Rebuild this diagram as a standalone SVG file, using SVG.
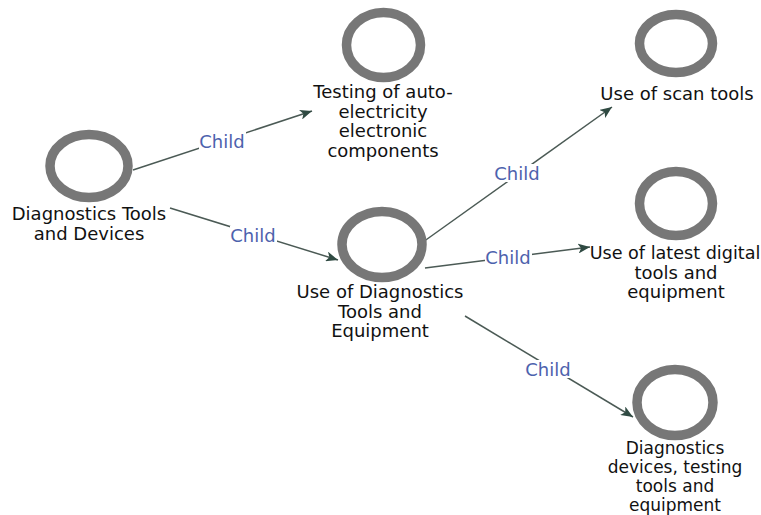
<svg xmlns="http://www.w3.org/2000/svg" width="761" height="515" viewBox="0 0 761 515">
<style>
.ring{fill:none;stroke:#777;stroke-width:9.5}
.lbl{font-family:"DejaVu Sans",sans-serif;font-size:18px;fill:#111;text-anchor:middle}
.sm{font-size:17px}
.edge{stroke:#4b5a55;stroke-width:1.5;fill:none}
.elbl{font-family:"DejaVu Sans",sans-serif;font-size:18px;fill:#4d62ad;text-anchor:middle;dominant-baseline:central}
.bg{fill:#fff}
</style>
<defs>
<marker id="arr" viewBox="0 0 12 10" refX="12" refY="5" markerWidth="12" markerHeight="10" markerUnits="userSpaceOnUse" orient="auto">
<path d="M0,0 L12,5 L0,10 L3,5 z" fill="#2f4a42"/>
</marker>
</defs>
<rect width="761" height="515" fill="#fff"/>
<g id="connectors">
<line class="edge" x1="133" y1="170" x2="312" y2="111" marker-end="url(#arr)"/>
<line class="edge" x1="170" y1="208" x2="338" y2="260" marker-end="url(#arr)"/>
<line class="edge" x1="423" y1="242" x2="612" y2="107" marker-end="url(#arr)"/>
<line class="edge" x1="425" y1="268" x2="590" y2="247" marker-end="url(#arr)"/>
<line class="edge" x1="465" y1="316" x2="633" y2="417" marker-end="url(#arr)"/>
<rect class="bg" x="199" y="132" width="47" height="18"/>
<text class="elbl" x="222" y="141">Child</text>
<rect class="bg" x="230" y="226" width="47" height="18"/>
<text class="elbl" x="253" y="235">Child</text>
<rect class="bg" x="494" y="164" width="47" height="18"/>
<text class="elbl" x="517" y="173">Child</text>
<rect class="bg" x="485" y="248" width="47" height="18"/>
<text class="elbl" x="508" y="257">Child</text>
<rect class="bg" x="525" y="360" width="47" height="18"/>
<text class="elbl" x="548" y="369">Child</text>
</g>
<g id="n1">
<ellipse class="ring" cx="89" cy="166" rx="39" ry="31.5"/>
<text class="lbl" x="89" y="220">Diagnostics Tools</text>
<text class="lbl" x="89" y="240">and Devices</text>
</g>
<g id="n2">
<ellipse class="ring" cx="383.5" cy="45" rx="37" ry="32.5"/>
<text class="lbl" x="383" y="98">Testing of auto-</text>
<text class="lbl" x="383" y="118">electricity</text>
<text class="lbl" x="383" y="137">electronic</text>
<text class="lbl" x="383" y="157">components</text>
</g>
<g id="n3">
<ellipse class="ring" cx="382" cy="244.5" rx="40" ry="33"/>
<text class="lbl" x="380" y="298">Use of Diagnostics</text>
<text class="lbl" x="380" y="318">Tools and</text>
<text class="lbl" x="380" y="337">Equipment</text>
</g>
<g id="n4">
<ellipse class="ring" cx="676" cy="43.5" rx="36.5" ry="29"/>
<text class="lbl" x="677" y="100">Use of scan tools</text>
</g>
<g id="n5">
<ellipse class="ring" cx="676" cy="203.5" rx="36.5" ry="32"/>
<text class="lbl" x="675" y="259" style="font-size:17.6px">Use of latest digital</text>
<text class="lbl" x="676" y="279">tools and</text>
<text class="lbl" x="676" y="298">equipment</text>
</g>
<g id="n6">
<ellipse class="ring" cx="675" cy="402.5" rx="38" ry="33"/>
<text class="lbl sm" x="675" y="454">Diagnostics</text>
<text class="lbl sm" x="675" y="472.5">devices, testing</text>
<text class="lbl sm" x="675" y="491.5">tools and</text>
<text class="lbl sm" x="675" y="511">equipment</text>
</g>
</svg>
